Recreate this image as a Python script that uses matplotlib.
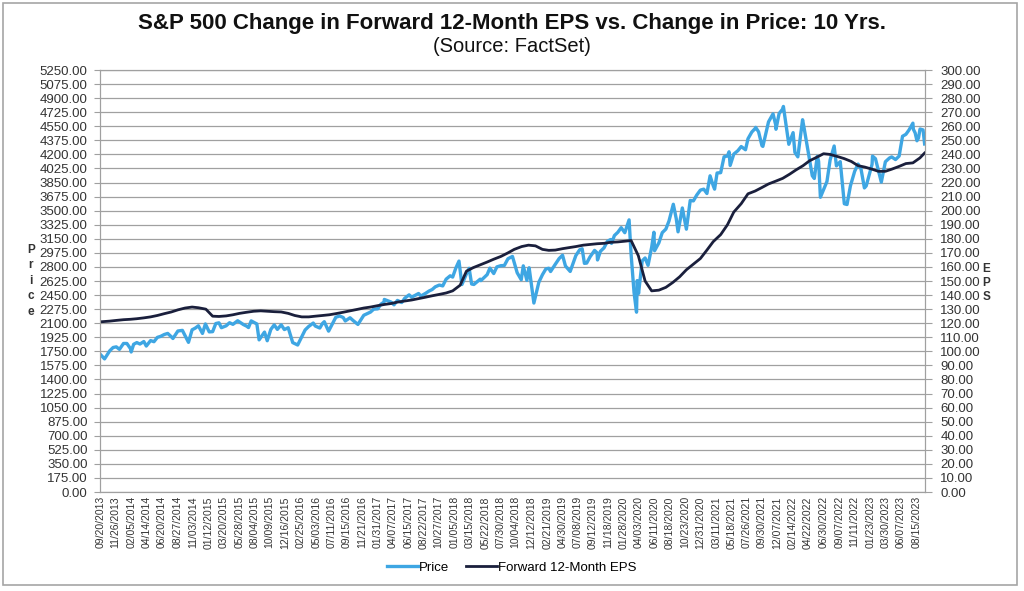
import matplotlib
matplotlib.use("Agg")
import matplotlib.pyplot as plt
from matplotlib.patches import Rectangle
import numpy as np

plt.rcParams['font.family'] = ['Liberation Sans', 'DejaVu Sans']

# S&P 500 price (key closes and turning points)
price_dates = [
    "2013-09-20", "2013-10-08", "2013-10-31", "2013-11-29", "2013-12-31",
    "2014-01-31", "2014-02-03", "2014-02-28", "2014-03-31", "2014-04-11",
    "2014-04-30", "2014-05-30", "2014-06-30", "2014-07-31", "2014-08-29",
    "2014-09-18", "2014-10-15", "2014-10-31", "2014-11-28", "2014-12-16",
    "2014-12-29", "2015-01-30", "2015-02-27", "2015-03-31", "2015-04-30",
    "2015-05-21", "2015-06-30", "2015-07-20", "2015-08-24", "2015-09-29",
    "2015-10-30", "2015-11-30", "2015-12-31", "2016-01-20", "2016-02-11",
    "2016-03-31", "2016-04-29", "2016-05-31", "2016-06-27", "2016-07-29",
    "2016-08-31", "2016-09-30", "2016-11-04", "2016-11-30", "2016-12-30",
    "2017-01-31", "2017-02-28", "2017-03-31", "2017-04-28", "2017-05-31",
    "2017-06-30", "2017-07-31", "2017-08-31", "2017-09-29", "2017-10-31",
    "2017-11-30", "2017-12-29", "2018-01-26", "2018-02-08", "2018-02-28",
    "2018-03-23", "2018-04-30", "2018-05-31", "2018-06-29", "2018-07-31",
    "2018-08-31", "2018-09-20", "2018-10-29", "2018-11-30", "2018-12-24",
    "2019-01-31", "2019-02-28", "2019-03-29", "2019-04-30", "2019-06-03",
    "2019-06-28", "2019-07-26", "2019-08-05", "2019-08-30", "2019-09-30",
    "2019-10-31", "2019-11-29", "2019-12-31", "2020-01-31", "2020-02-19",
    "2020-03-23", "2020-04-30", "2020-05-29", "2020-06-30", "2020-07-31",
    "2020-09-02", "2020-09-23", "2020-10-30", "2020-11-30", "2020-12-31",
    "2021-01-29", "2021-02-26", "2021-03-31", "2021-04-30", "2021-05-28",
    "2021-06-30", "2021-07-30", "2021-08-31", "2021-09-02", "2021-10-04",
    "2021-10-29", "2021-11-30", "2021-12-31", "2022-01-03", "2022-01-27",
    "2022-02-23", "2022-03-29", "2022-04-29", "2022-05-20", "2022-06-02",
    "2022-06-16", "2022-07-29", "2022-08-16", "2022-09-30", "2022-10-12",
    "2022-11-30", "2022-12-28", "2023-01-31", "2023-02-02", "2023-03-13",
    "2023-04-28", "2023-05-31", "2023-06-30", "2023-07-31", "2023-08-18",
    "2023-08-31", "2023-09-14", "2023-09-21",
]
price_values = [
    1710, 1656, 1757, 1806, 1848,
    1783, 1742, 1859, 1872, 1816,
    1884, 1924, 1960, 1931, 2003,
    2011, 1862, 2018, 2068, 1973,
    2091, 1995, 2105, 2068, 2086,
    2131, 2063, 2129, 1893, 1882,
    2079, 2080, 2044, 1859, 1829,
    2060, 2065, 2097, 2001, 2174,
    2171, 2168, 2085, 2199, 2239,
    2279, 2364, 2363, 2384, 2412,
    2423, 2470, 2472, 2519, 2575,
    2648, 2674, 2873, 2581, 2714,
    2588, 2648, 2705, 2718, 2816,
    2902, 2931, 2641, 2760, 2351,
    2704, 2784, 2834, 2946, 2744,
    2942, 3026, 2845, 2926, 2977,
    3038, 3141, 3231, 3226, 3386,
    2237, 2912, 3044, 3100, 3271,
    3580, 3237, 3270, 3622, 3756,
    3714, 3811, 3973, 4181, 4204,
    4298, 4395, 4523, 4537, 4300,
    4605, 4567, 4766, 4797, 4326,
    4225, 4632, 4132, 3901, 4177,
    3667, 4130, 4305, 3586, 3577,
    4080, 3783, 4077, 4179, 3855,
    4169, 4180, 4450, 4589, 4370,
    4508, 4505, 4330,
]

# extra mid-month price readings (the wiggles between the closes above)
price_mid_dates = [
    "2013-11-15", "2013-12-13", "2014-01-15", "2014-02-14", "2014-03-14",
    "2014-05-15", "2014-06-13", "2014-07-15", "2014-08-07", "2014-11-14",
    "2015-01-15", "2015-02-13", "2015-03-10", "2015-04-15", "2015-06-15",
    "2015-07-08", "2015-08-14", "2015-09-17", "2015-10-15", "2015-11-13",
    "2015-12-14", "2016-03-15", "2016-04-20", "2016-05-19", "2016-06-08",
    "2016-08-15", "2016-09-09", "2016-10-14", "2017-01-13", "2017-02-14",
    "2017-03-01", "2017-04-13", "2017-05-17", "2017-06-19", "2017-08-10",
    "2017-09-15", "2017-10-13", "2017-11-15", "2017-12-18", "2018-01-12",
    "2018-03-12", "2018-04-02", "2018-05-03", "2018-06-12", "2018-07-13",
    "2018-08-15", "2018-10-11", "2018-11-07", "2018-11-23", "2018-12-03",
    "2019-01-15", "2019-02-15", "2019-03-08", "2019-04-15", "2019-05-13",
    "2019-07-15", "2019-08-15", "2019-09-19", "2019-10-02", "2019-10-15",
    "2019-11-15", "2019-12-03", "2019-12-16", "2020-01-15", "2020-02-28",
    "2020-03-12", "2020-03-26", "2020-04-01", "2020-04-17", "2020-05-13",
    "2020-06-08", "2020-06-11", "2020-07-15", "2020-08-14", "2020-09-15",
    "2020-10-12", "2020-11-16", "2020-12-15", "2021-01-15", "2021-02-12",
    "2021-03-04", "2021-03-15", "2021-04-15", "2021-05-07", "2021-05-12",
    "2021-06-15", "2021-07-19", "2021-08-16", "2021-09-15", "2021-09-30",
    "2021-11-18", "2021-12-01", "2021-12-15", "2022-02-15", "2022-03-08",
    "2022-04-05", "2022-05-11", "2022-06-08", "2022-07-15", "2022-08-26",
    "2022-09-12", "2022-10-27", "2022-11-15", "2022-12-13", "2023-01-05",
    "2023-02-15", "2023-03-31", "2023-04-18", "2023-05-15", "2023-06-15",
    "2023-07-14", "2023-08-02", "2023-08-10", "2023-08-25", "2023-09-01",
]
price_mid_values = [
    1798, 1775, 1848, 1838, 1841,
    1870, 1936, 1973, 1910, 2039,
    1992, 2096, 2044, 2106, 2084,
    2046, 2091, 1990, 2023, 2023,
    2021, 2016, 2102, 2040, 2119,
    2190, 2128, 2133, 2275, 2337,
    2396, 2329, 2357, 2453, 2438,
    2500, 2553, 2564, 2690, 2786,
    2783, 2582, 2630, 2786, 2801,
    2818, 2728, 2814, 2633, 2790,
    2610, 2775, 2743, 2905, 2812,
    3014, 2848, 3006, 2887, 2995,
    3120, 3093, 3191, 3289, 2954,
    2481, 2630, 2470, 2875, 2820,
    3232, 3002, 3227, 3373, 3401,
    3534, 3627, 3695, 3768, 3934,
    3768, 3969, 4171, 4233, 4063,
    4246, 4258, 4479, 4481, 4308,
    4705, 4513, 4709, 4471, 4170,
    4525, 3935, 4116, 3863, 4058,
    4110, 3808, 3991, 4019, 3808,
    4147, 4109, 4155, 4136, 4426,
    4505, 4513, 4468, 4406, 4516,
]

# Forward 12-month EPS, month ends
eps_dates = [
    "2013-09-20", "2013-10-31", "2013-11-29", "2013-12-31",
    "2014-01-31", "2014-02-28", "2014-03-31", "2014-04-30", "2014-05-30", "2014-06-30",
    "2014-07-31", "2014-08-29", "2014-09-30", "2014-10-31", "2014-11-28", "2014-12-31",
    "2015-01-30", "2015-02-27", "2015-03-31", "2015-04-30", "2015-05-29", "2015-06-30",
    "2015-07-31", "2015-08-31", "2015-09-30", "2015-10-30", "2015-11-30", "2015-12-31",
    "2016-01-29", "2016-02-29", "2016-03-31", "2016-04-29", "2016-05-31", "2016-06-30",
    "2016-07-29", "2016-08-31", "2016-09-30", "2016-10-31", "2016-11-30", "2016-12-30",
    "2017-01-31", "2017-02-28", "2017-03-31", "2017-04-28", "2017-05-31", "2017-06-30",
    "2017-07-31", "2017-08-31", "2017-09-29", "2017-10-31", "2017-11-30", "2017-12-29",
    "2018-01-31", "2018-02-28", "2018-03-30", "2018-04-30", "2018-05-31", "2018-06-29",
    "2018-07-31", "2018-08-31", "2018-09-28", "2018-10-31", "2018-11-30", "2018-12-31",
    "2019-01-31", "2019-02-28", "2019-03-29", "2019-04-30", "2019-05-31", "2019-06-28",
    "2019-07-31", "2019-08-30", "2019-09-30", "2019-10-31", "2019-11-29", "2019-12-31",
    "2020-01-31", "2020-02-28", "2020-03-31", "2020-04-30", "2020-05-29", "2020-06-30",
    "2020-07-31", "2020-08-31", "2020-09-30", "2020-10-30", "2020-11-30", "2020-12-31",
    "2021-01-29", "2021-02-26", "2021-03-31", "2021-04-30", "2021-05-28", "2021-06-30",
    "2021-07-30", "2021-08-31", "2021-09-30", "2021-10-29", "2021-11-30", "2021-12-31",
    "2022-01-31", "2022-02-28", "2022-03-31", "2022-04-29", "2022-05-31", "2022-06-30",
    "2022-07-29", "2022-08-31", "2022-09-30", "2022-10-31", "2022-11-30", "2022-12-30",
    "2023-01-31", "2023-02-28", "2023-03-31", "2023-04-28", "2023-05-31", "2023-06-30",
    "2023-07-31", "2023-08-31", "2023-09-21",
]
eps_values = [
    121.0, 121.5, 122.0, 122.5,
    122.8, 123.2, 123.8, 124.5, 125.5, 126.8,
    128.0, 129.5, 130.8, 131.5, 131.0, 130.0,
    125.0, 124.8, 125.2, 126.0, 127.0, 127.8,
    128.5, 128.8, 128.5, 128.2, 128.0, 127.0,
    125.5, 124.5, 124.5, 125.0, 125.5, 126.0,
    126.8, 127.8, 128.8, 129.8, 130.8, 131.5,
    132.5, 133.3, 134.0, 135.0, 135.8, 136.5,
    137.5, 138.5, 139.5, 140.5, 141.5, 143.0,
    147.0, 157.0, 159.5, 161.5, 163.5, 165.5,
    167.5, 170.0, 172.5, 174.5, 175.5, 175.0,
    172.5, 171.8, 172.0, 173.0, 173.8, 174.5,
    175.5, 176.0, 176.5, 176.8, 177.5, 177.8,
    178.3, 178.8, 168.0, 150.0, 143.0, 143.5,
    145.5, 149.0, 153.0, 158.0, 162.0, 166.0,
    172.0, 178.0, 183.0, 190.0, 199.0, 205.0,
    212.0, 214.0, 216.5, 219.0, 221.0, 223.0,
    226.0, 229.0, 232.0, 235.5, 238.0, 240.5,
    240.0, 238.5, 237.0, 235.0, 232.0, 231.0,
    229.5, 228.0, 228.0, 229.5, 231.5, 233.5,
    234.0, 237.5, 241.0,
]

tick_labels = [
    "09/20/2013", "11/26/2013", "02/05/2014", "04/14/2014", "06/20/2014", "08/27/2014",
    "11/03/2014", "01/12/2015", "03/20/2015", "05/28/2015", "08/04/2015", "10/09/2015",
    "12/16/2015", "02/25/2016", "05/03/2016", "07/11/2016", "09/15/2016", "11/21/2016",
    "01/31/2017", "04/07/2017", "06/15/2017", "08/22/2017", "10/27/2017", "01/05/2018",
    "03/15/2018", "05/22/2018", "07/30/2018", "10/04/2018", "12/12/2018", "02/21/2019",
    "04/30/2019", "07/08/2019", "09/12/2019", "11/18/2019", "01/28/2020", "04/03/2020",
    "06/11/2020", "08/18/2020", "10/23/2020", "12/31/2020", "03/11/2021", "05/18/2021",
    "07/26/2021", "09/30/2021", "12/07/2021", "02/14/2022", "04/22/2022", "06/30/2022",
    "09/07/2022", "11/11/2022", "01/23/2023", "03/30/2023", "06/07/2023", "08/15/2023",
]

# merge the two price lists in date order
px_all = np.array(price_dates + price_mid_dates, dtype="datetime64[D]")
pv_all = np.array(price_values + price_mid_values, dtype=float)
order = np.argsort(px_all, kind="stable")
price_x = px_all[order]
price_y = pv_all[order]

eps_x = np.array(eps_dates, dtype="datetime64[D]")
tick_x = np.array(["%s-%s-%s" % (t[6:], t[0:2], t[3:5]) for t in tick_labels],
                  dtype="datetime64[D]")

fig = plt.figure(figsize=(10.24, 5.91), dpi=100)
fig.patches.append(Rectangle((0.003, 0.01), 0.99, 0.985, transform=fig.transFigure,
                             fill=False, edgecolor="#a6a6a6", linewidth=1.2))

ax = fig.add_axes([0.0977, 0.1675, 0.8057, 0.714])
ax2 = ax.twinx()

grid_c = "#a0a0a0"
ax.set_ylim(0, 5250)
ax.set_yticks(np.arange(0, 5251, 175))
ax.yaxis.set_major_formatter(matplotlib.ticker.FormatStrFormatter("%.2f"))
ax.grid(axis="y", color=grid_c, linewidth=0.9)
ax.set_axisbelow(True)

ax2.set_ylim(0, 300)
ax2.set_yticks(np.arange(0, 301, 10))
ax2.yaxis.set_major_formatter(matplotlib.ticker.FormatStrFormatter("%.2f"))

l1, = ax.plot(price_x, price_y, color="#3ea6e3", linewidth=2.4, label="Price")
l2, = ax2.plot(eps_x, eps_values, color="#1a1f3c", linewidth=2.0,
               label="Forward 12-Month EPS")

ax.set_xlim(np.datetime64("2013-09-18"), np.datetime64("2023-09-23"))
ax.set_xticks(tick_x)
ax.set_xticklabels(tick_labels, rotation=90, fontsize=7.5, color="#404040")

for a in (ax, ax2):
    for s in a.spines.values():
        s.set_color(grid_c)
    a.tick_params(colors=grid_c, labelcolor="#333333", width=0.8)
ax.tick_params(axis="y", labelsize=9.5, length=4, pad=5)
ax2.tick_params(axis="y", labelsize=9.5, length=5, pad=6)
ax.tick_params(axis="x", length=0, pad=3)

fig.text(0.5, 0.961, "S&P 500 Change in Forward 12-Month EPS vs. Change in Price: 10 Yrs.",
         ha="center", va="center", fontsize=16, fontweight="bold", color="#111111")
fig.text(0.5, 0.921, "(Source: FactSet)", ha="center", va="center", fontsize=14.5,
         color="#111111")

fig.text(0.03, 0.525, "P\nr\ni\nc\ne", ha="center", va="center", fontsize=8.5,
         fontweight="bold", color="#333333", linespacing=1.4)
fig.text(0.963, 0.521, "E\nP\nS", ha="center", va="center", fontsize=8.5,
         fontweight="bold", color="#333333", linespacing=1.2)

fig.legend([l1, l2], ["Price", "Forward 12-Month EPS"], loc="center",
           bbox_to_anchor=(0.5, 0.039), ncol=2, frameon=False, fontsize=9.5,
           handlelength=2.3, columnspacing=1.3, handletextpad=0.1)

plt.savefig("out.png", dpi=100)
plt.close()
